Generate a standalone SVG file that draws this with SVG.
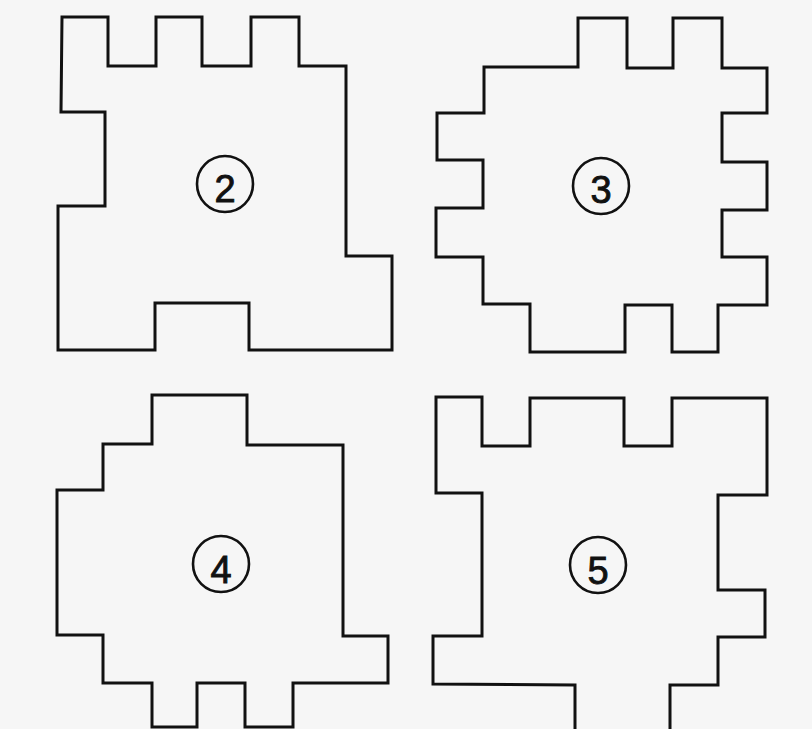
<svg xmlns="http://www.w3.org/2000/svg" width="812" height="729" viewBox="0 0 812 729">
<style>
.piece{fill:none;stroke:#111;stroke-width:3;stroke-linejoin:miter}
.badge{fill:none;stroke:#111;stroke-width:2.6}
.num{font-family:"Liberation Sans",Arial,sans-serif;font-size:38px;fill:#111;stroke:#111;stroke-width:0.9;text-anchor:middle}
</style>
<rect x="0" y="0" width="812" height="729" fill="#f6f6f6"/>
<g id="piece2">
<polygon class="piece" points="62,17 108,17 108,66 156,66 156,17 202,17 202,66 251,66 251,17 299,17 299,66 346,66 346,256 392,256 392,350 249,350 249,303 155,303 155,350 58,350 58,206 105,206 105,112 61,112"/>
<circle class="badge" cx="225" cy="184" r="28"/>
<text class="num" x="225" y="202">2</text>
</g>
<g id="piece3">
<polygon class="piece" points="578,18 627,18 627,68 673,68 673,18 722,18 722,68 767,68 767,113 722,113 722,162 767,162 767,210 722,210 722,257 767,257 767,305 718,305 718,352 672,352 672,305 625,305 625,352 530,352 530,304 483,304 483,257 436,257 436,208 483,208 483,160 437,160 437,113 484,113 484,67 578,67"/>
<circle class="badge" cx="601" cy="186" r="28"/>
<text class="num" x="601" y="203">3</text>
</g>
<g id="piece4">
<polygon class="piece" points="152,395 247,395 247,445 343,445 343,636 388,636 388,683 293,683 293,727 245,727 245,683 197,683 197,727 152,727 152,683 103,683 103,635 57,635 57,490 103,490 103,444 152,444"/>
<circle class="badge" cx="221" cy="564" r="28"/>
<text class="num" x="221" y="583">4</text>
</g>
<g id="piece5">
<polygon class="piece" points="436,397 482,397 482,446 530,446 530,398 624,398 624,446 672,446 672,398 767,398 767,495 718,495 718,590 765,590 765,637 718,637 718,685 670,685 670,732 575,732 575,685 433,684 433,636 482,636 482,493 436,493"/>
<circle class="badge" cx="598" cy="565" r="28"/>
<text class="num" x="598" y="584">5</text>
</g>
</svg>
